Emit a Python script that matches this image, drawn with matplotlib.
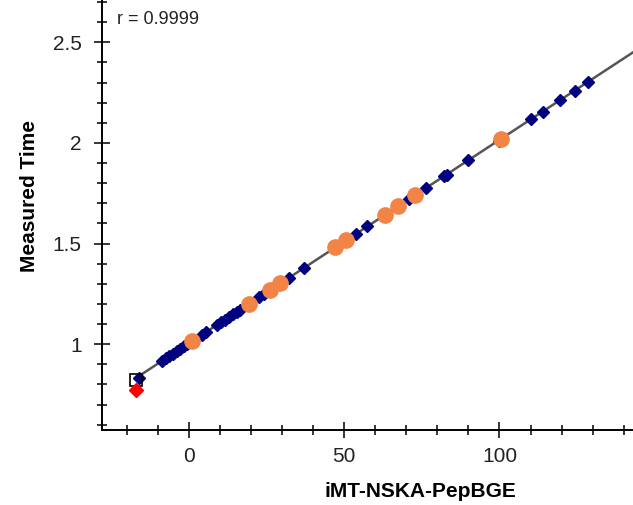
import numpy as np
import matplotlib
matplotlib.use("Agg")
import matplotlib.pyplot as plt
from matplotlib.ticker import MultipleLocator

plt.rcParams['font.family'] = ['Liberation Sans', 'DejaVu Sans']

# peptides (blue diamonds)
pep_x = [-16.0, -8.7, -7.4, -6.5, -5.2, -3.9, -2.9, -1.6, -0.6, 0.9, 4.2, 5.5,
         9.0, 10.3, 11.6, 12.9, 14.2, 15.5, 16.5, 19.4, 22.6, 24.2, 26.0, 29.4,
         32.3, 37.1, 47.1, 50.6, 53.9, 57.4, 63.2, 67.4, 71.0, 72.9, 76.5, 82.3,
         83.0, 90.0, 99.7, 110.3, 113.9, 119.4, 124.2, 128.4]
pep_y = [0.830, 0.917, 0.930, 0.939, 0.952, 0.966, 0.976, 0.989, 0.999, 1.014,
         1.047, 1.061, 1.096, 1.109, 1.122, 1.135, 1.148, 1.162, 1.172, 1.201,
         1.233, 1.249, 1.268, 1.302, 1.331, 1.380, 1.481, 1.516, 1.549, 1.585,
         1.643, 1.686, 1.722, 1.741, 1.778, 1.836, 1.843, 1.914, 2.012, 2.119,
         2.155, 2.211, 2.259, 2.302]

# reference standards (orange circles)
std_x = [0.9, 19.4, 26.0, 29.4, 47.1, 50.6, 63.2, 67.4, 72.9, 100.6]
std_y = [1.014, 1.201, 1.268, 1.302, 1.481, 1.516, 1.643, 1.686, 1.741, 2.021]

# excluded / flagged points
box_x, box_y = [-17.0], [0.822]
red_x, red_y = [-17.0], [0.772]

r_text = "r = 0.9999"

fig = plt.figure(figsize=(6.33, 5.05), dpi=100)
ax = fig.add_axes([0.161, 0.149, 0.839, 0.851])

slope, icpt = np.polyfit(pep_x, pep_y, 1)
lx = np.array([box_x[0], 145])
ax.plot(lx, slope * lx + icpt, color='#555555', lw=1.8, zorder=1)

ax.plot(pep_x, pep_y, 'D', color='#000080', ms=6, zorder=2)
ax.plot(std_x, std_y, 'o', color='#F28446', ms=11, zorder=3)
ax.plot(box_x, box_y, 's', mfc='none', mec='black', ms=8, mew=1.2, zorder=4)
ax.plot(red_x, red_y, 'D', color='#FF0000', ms=7, zorder=4)

ax.set_xlim(-28, 143)
ax.set_ylim(0.575, 2.71)
ax.xaxis.set_major_locator(MultipleLocator(50))
ax.xaxis.set_minor_locator(MultipleLocator(10))
ax.yaxis.set_major_locator(MultipleLocator(0.5))
ax.yaxis.set_minor_locator(MultipleLocator(0.1))
ax.set_yticks([1, 1.5, 2, 2.5])
ax.set_yticklabels(['1', '1.5', '2', '2.5'])

for s in ['top', 'right']:
    ax.spines[s].set_visible(False)
for s in ['left', 'bottom']:
    ax.spines[s].set_linewidth(1.4)

ax.tick_params(which='major', direction='inout', length=11, width=1.1,
               labelsize=15, labelcolor='#222222')
ax.tick_params(axis='y', which='major', pad=9)
ax.tick_params(axis='x', which='major', pad=7)
ax.tick_params(which='minor', direction='inout', length=7, width=1.1)

ax.set_xlabel("iMT-NSKA-PepBGE", fontsize=15, fontweight='bold')
ax.xaxis.set_label_coords(0.599, -0.122)
ax.set_ylabel("Measured Time", fontsize=15, fontweight='bold')
ax.yaxis.set_label_coords(-0.118, 0.544)

ax.text(0.028, 0.975, r_text, transform=ax.transAxes, fontsize=13,
        color='#222222', va='top', ha='left')

fig.savefig("out.png", dpi=100)
